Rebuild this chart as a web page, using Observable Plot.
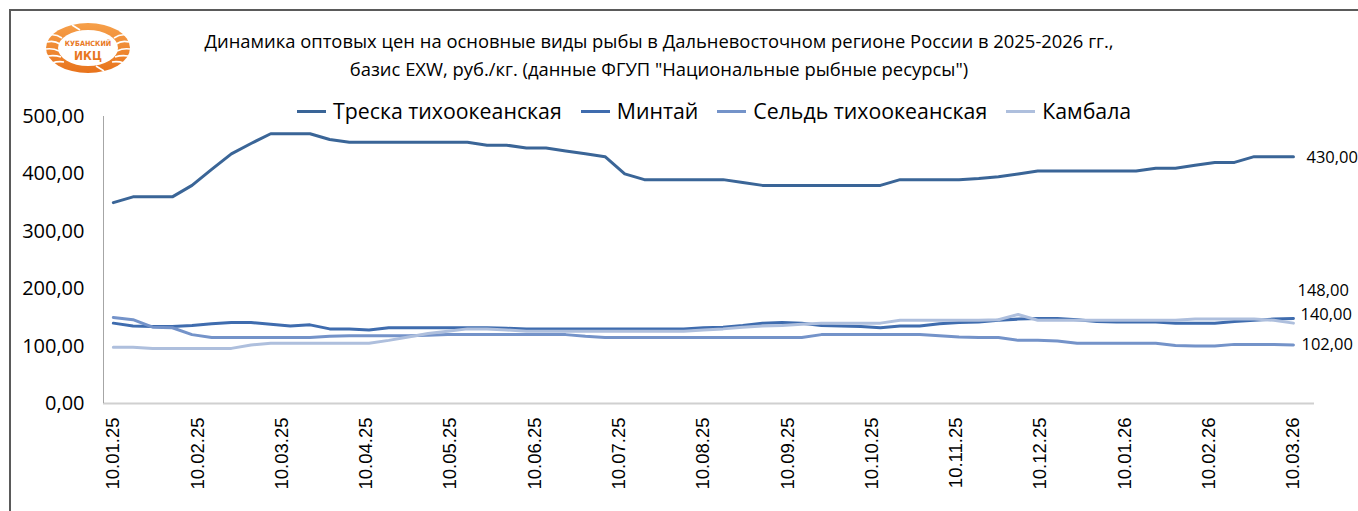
<!DOCTYPE html>
<html>
<head>
<meta charset="utf-8">
<script src="https://cdn.jsdelivr.net/npm/d3@7"></script>
<script src="https://cdn.jsdelivr.net/npm/@observablehq/plot@0.6"></script>
<style>
  html, body { margin: 0; padding: 0; background: #fff; }
  #wrap { position: relative; width: 1358px; height: 511px; overflow: hidden; background: #fff; font-family: "Open Sans", sans-serif; color: #000; }
  #frame { position: absolute; left: 9px; top: 9px; width: 1420px; height: 620px; border: 2px solid #5a5a5a; box-sizing: border-box; }
  #logo { position: absolute; left: 44px; top: 22px; }
  #title { position: absolute; left: 0; top: 27px; width: 1318px; text-align: center; font-size: 18.4px; line-height: 28px; white-space: nowrap; }
  #legend { position: absolute; left: 297px; top: 97px; display: flex; align-items: center; font-size: 21.3px; line-height: 28px; white-space: nowrap; }
  .item { display: flex; align-items: center; margin-right: 19px; }
  .sw { width: 29px; height: 3px; margin-right: 7px; }
  #chart { position: absolute; left: 0; top: 96px; }
</style>
</head>
<body>
<div id="wrap">
  <div id="frame"></div>
  <svg id="logo" width="90" height="54" viewBox="0 0 90 54">
    <defs>
      <linearGradient id="og" x1="0" y1="0" x2="0" y2="1">
        <stop offset="0" stop-color="#f6a04a"/>
        <stop offset="1" stop-color="#e8731c"/>
      </linearGradient>
    </defs>
    <ellipse cx="44" cy="26" rx="42" ry="25" fill="url(#og)"/>
    <ellipse cx="44" cy="26" rx="30" ry="18" fill="#fff"/>
    <g stroke="#fff" stroke-width="1.6" fill="none">
      <path d="M3 20 Q10 18 16 22"/><path d="M2 27 Q9 26 15 29"/><path d="M4 34 Q11 33 17 35"/><path d="M8 41 Q14 39 20 40"/>
      <path d="M6 13 Q12 12 18 16"/>
      <path d="M85 20 Q78 18 72 22"/><path d="M86 27 Q79 26 73 29"/><path d="M84 34 Q77 33 71 35"/><path d="M80 41 Q74 39 68 40"/>
      <path d="M82 13 Q76 12 70 16"/>
      <path d="M28 3 L36 8"/><path d="M60 49 L52 44"/>
    </g>
    <text x="44" y="24" text-anchor="middle" font-size="7.2" font-weight="bold" fill="#e8781f" font-family="DejaVu Sans Condensed, DejaVu Sans">КУБАНСКИЙ</text>
    <text x="44" y="38" text-anchor="middle" font-size="12" font-weight="bold" fill="#e8781f" font-family="DejaVu Sans Condensed, DejaVu Sans">ИКЦ</text>
  </svg>
  <div id="title"></div>
  <div id="legend"></div>
  <div id="chart"></div>
</div>
<script>
// ---- data ----
const titleLines = [
  "Динамика оптовых цен на основные виды рыбы в Дальневосточном регионе России в 2025-2026 гг.,",
  "базис EXW, руб./кг. (данные ФГУП \"Национальные рыбные ресурсы\")"
];
const series = ["Треска тихоокеанская", "Минтай", "Сельдь тихоокеанская", "Камбала"];
const colors = ["#3a6597", "#3f6cae", "#7493c9", "#aebfdd"];
const tickLabels = ["10.01.25","10.02.25","10.03.25","10.04.25","10.05.25","10.06.25","10.07.25","10.08.25",
                    "10.09.25","10.10.25","10.11.25","10.12.25","10.01.26","10.02.26","10.03.26"];
const yTicks = [0, 100, 200, 300, 400, 500];

const treska = [350,360,360,360,380,408,435,453,470,470, 470,460,455,455,455,455,455,455,455,450,
                450,445,445,440,435,430,400,390,390,390, 390,390,385,380,380,380,380,380,380,380,
                390,390,390,390,392,395,400,405,405,405, 405,405,405,410,410,415,420,420,430,430, 430];
const mintai = [140,135,134,134,136,139,141,141,138,135, 137,130,130,128,132,132,132,132,132,132,
                131,130,130,130,130,130,130,130,130,130, 132,133,136,140,141,140,136,135,134,132,
                135,135,139,141,142,145,147,148,148,146, 143,142,142,142,140,140,140,143,145,147, 148];
const seld   = [150,146,133,132,120,115,115,115,115,115, 115,117,118,118,118,118,119,120,120,120,
                120,120,120,120,117,115,115,115,115,115, 115,115,115,115,115,115,120,120,120,120,
                120,120,118,116,115,115,110,110,109,105, 105,105,105,105,101,100,100,103,103,103, 102];
const kambala= [ 98, 98, 96, 96, 96, 96, 96,102,105,105, 105,105,105,105,110,116,122,126,130,130,
                128,126,126,126,126,126,126,126,126,126, 128,130,133,135,136,138,140,140,140,140,
                145,145,145,145,145,146,155,145,145,145, 145,145,145,145,145,147,147,147,147,145, 140];
const values = [treska, mintai, seld, kambala];

// ---- styling / layout (not data) ----
const labelOffsets = [[13, 1], [4, -28], [8, 0], [7, -8]];
const fmt = v => v.toFixed(2).replace(".", ",");
const textFont = "Open Sans, sans-serif";

// title & legend
document.getElementById("title").innerHTML = titleLines.map(t => `<div>${t.replace(/"/g, "&quot;")}</div>`).join("");
document.getElementById("legend").innerHTML = series.map((s, j) =>
  `<div class="item"><div class="sw" style="background:${colors[j]}"></div><span>${s}</span></div>`).join("");

// table
const table = series.flatMap((s, j) => values[j].map((v, i) => ({ s, i, v })));
const n = treska.length;
const tickPos = tickLabels.map((_, k) => k * (n - 1) / (tickLabels.length - 1));
const tickMap = new Map(tickPos.map((p, k) => [p, tickLabels[k]]));

const chart = Plot.plot({
  width: 1358,
  height: 415,
  marginLeft: 103,
  marginRight: 44,
  marginTop: 20,
  marginBottom: 108,
  style: { fontFamily: textFont, background: "transparent", overflow: "visible", color: "#000" },
  x: { type: "linear", domain: [-0.5, n + 0.07], axis: null },
  y: { domain: [0, 500], axis: null },
  color: { domain: series, range: colors },
  marks: [
    Plot.ruleY([0], { stroke: "#d0d0d0", strokeWidth: 2 }),
    Plot.ruleX([-0.5], { y1: 0, y2: 500, stroke: "#a6a6a6", strokeWidth: 1 }),
    Plot.axisY({ ticks: yTicks, tickFormat: fmt, tickSize: 0, tickPadding: 19, fontSize: 20, fontFamily: textFont, fill: "#000", label: null }),
    Plot.axisX({ ticks: tickPos, tickFormat: d => tickMap.get(d), tickRotate: -90, tickSize: 0, tickPadding: 14,
                 fontSize: 18.5, fontFamily: "Liberation Sans, Arial, sans-serif", fill: "#000", label: null }),
    Plot.line(table, { x: "i", y: "v", z: "s", stroke: "s", strokeWidth: 3, strokeLinejoin: "round", strokeLinecap: "round", curve: "linear" }),
    ...series.map((s, j) => Plot.text([{ i: n - 1, v: values[j][n - 1] }], {
      x: "i", y: "v", text: d => fmt(d.v), textAnchor: "start",
      dx: labelOffsets[j][0], dy: labelOffsets[j][1], fontSize: 16.5, fontFamily: textFont, fill: "#000"
    }))
  ]
});
document.getElementById("chart").appendChild(chart);
</script>
</body>
</html>
